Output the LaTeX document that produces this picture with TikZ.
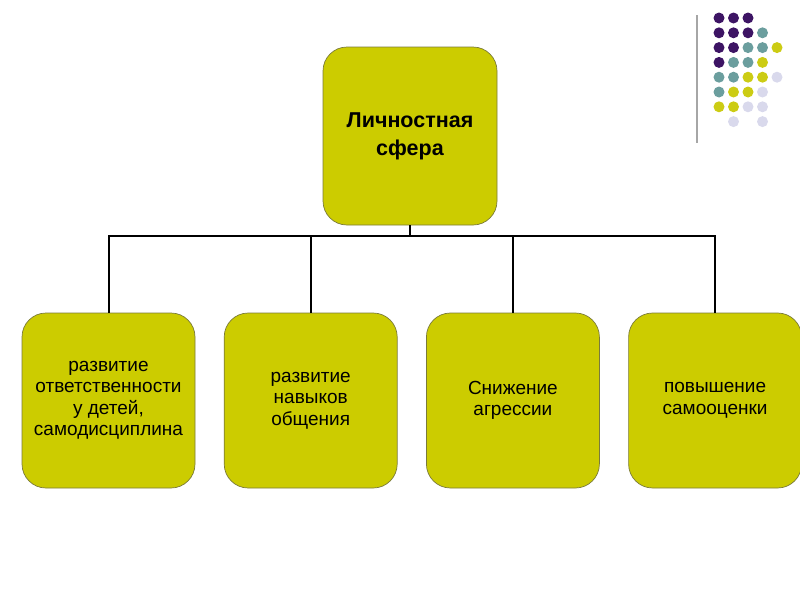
\documentclass[tikz,border=0pt]{standalone}
\usepackage{fontspec}
\setmainfont{Liberation Sans}
\usetikzlibrary{positioning}
\definecolor{boxOlive}{HTML}{CCCC00}
\definecolor{boxEdge}{HTML}{7A7A3A}
\definecolor{dotPurple}{HTML}{3D1464}
\definecolor{dotTeal}{HTML}{6B9E9E}
\definecolor{dotYellow}{HTML}{CCCC14}
\definecolor{dotLilac}{HTML}{D9D9EC}
\definecolor{barGray}{HTML}{A6A6A6}

\begin{document}
\begin{tikzpicture}[
  x=1pt, y=-1pt,
  box/.style={draw=boxEdge, line width=0.7pt, fill=boxOlive, rounded corners=24pt,
    minimum width=173pt, minimum height=175pt, inner sep=0pt, align=center,
    font=\fontsize{19}{21.5}\selectfont},
  top box/.style={box, minimum width=174pt, minimum height=178pt,
    font=\fontsize{21.5}{28}\selectfont\bfseries},
  link/.style={draw=black, line width=2pt},
]
\useasboundingbox (0,0) rectangle (800,600);

% Decoration: gray bar and dot grid, top right
\draw[barGray, line width=2pt] (697,15) -- (697,143);
\foreach \r/\c/\col in {0/0/dotPurple, 0/1/dotPurple, 0/2/dotPurple,
    1/0/dotPurple, 1/1/dotPurple, 1/2/dotPurple, 1/3/dotTeal,
    2/0/dotPurple, 2/1/dotPurple, 2/2/dotTeal, 2/3/dotTeal, 2/4/dotYellow,
    3/0/dotPurple, 3/1/dotTeal, 3/2/dotTeal, 3/3/dotYellow,
    4/0/dotTeal, 4/1/dotTeal, 4/2/dotYellow, 4/3/dotYellow, 4/4/dotLilac,
    5/0/dotTeal, 5/1/dotYellow, 5/2/dotYellow, 5/3/dotLilac,
    6/0/dotYellow, 6/1/dotYellow, 6/2/dotLilac, 6/3/dotLilac,
    7/1/dotLilac, 7/3/dotLilac} {
  \fill[\col] (719+14.5*\c, 18+14.8*\r) circle (5.5pt);
}

% Top box
\node[top box] (top) at (410,136) {Личностная\\сфера};

% Bottom row
\node[box] (resp) at (108.5,400.5) {развитие\\ответственности\\у детей,\\ самодисциплина};
\node[box, right=28.5pt of resp] (comm) {развитие\\навыков\\общения};
\node[box, right=28.5pt of comm] (aggr) {Снижение\\агрессии};
\node[box, right=28.5pt of aggr] (self) {повышение\\самооценки};

% Connectors
\coordinate (bus) at ([yshift=-11pt]top.south);
\foreach \b in {resp,comm,aggr,self}
  \draw[link] (top.south) -- (bus) -| (\b.north);

\end{tikzpicture}
\end{document}
